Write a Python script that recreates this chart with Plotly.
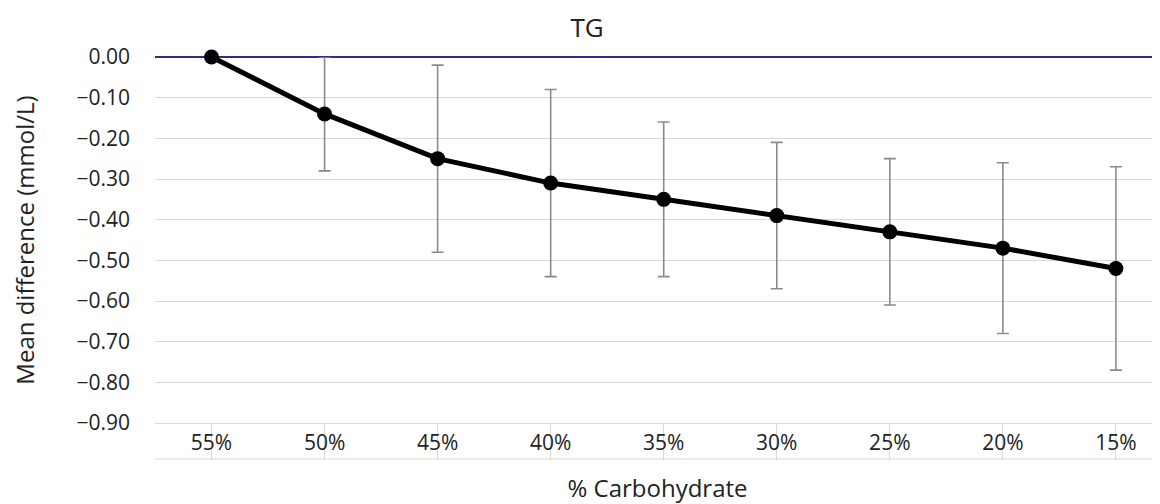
import plotly.graph_objects as go

categories = ["55%", "50%", "45%", "40%", "35%", "30%", "25%", "20%", "15%"]
mean_diff = [0.00, -0.14, -0.25, -0.31, -0.35, -0.39, -0.43, -0.47, -0.52]
upper_ci = [0.00, 0.00, -0.02, -0.08, -0.16, -0.21, -0.25, -0.26, -0.27]
lower_ci = [0.00, -0.28, -0.48, -0.54, -0.54, -0.57, -0.61, -0.68, -0.77]
y_ticks = [0.0, -0.1, -0.2, -0.3, -0.4, -0.5, -0.6, -0.7, -0.8, -0.9]

err_plus = [u - m for u, m in zip(upper_ci, mean_diff)]
err_minus = [m - l for m, l in zip(mean_diff, lower_ci)]
xidx = list(range(len(categories)))

FONT = "Open Sans"
TXT = "#222222"

# the page body adds an 8px offset, so the figure is 8px smaller on each side
W, H = 1152, 496

fig = go.Figure()
fig.add_trace(go.Scatter(
    x=xidx, y=mean_diff,
    mode="lines+markers",
    line=dict(color="black", width=5),
    marker=dict(color="black", size=15),
    error_y=dict(type="data", symmetric=False, array=err_plus, arrayminus=err_minus,
                 color="#8a8a8a", thickness=1.6, width=6),
    cliponaxis=False,
    showlegend=False,
))

# bottom border of the category table
fig.add_shape(type="line", xref="x", yref="y domain", x0=-0.5, x1=len(categories) - 0.5,
              y0=-36 / 366, y1=-36 / 366, line=dict(color="#d9d9d9", width=1))

fig.update_layout(
    width=W, height=H,
    margin=dict(l=147, r=0, t=49, b=81, autoexpand=False),
    paper_bgcolor="white", plot_bgcolor="white",
    font=dict(family=FONT, color=TXT, size=21),
    title=dict(text="TG", x=579 / W, xref="container", xanchor="center",
               y=1 - 20 / H, yref="container", yanchor="middle",
               font=dict(family=FONT, size=26, color=TXT)),
    xaxis=dict(
        tickmode="array", tickvals=xidx, ticktext=categories,
        range=[-0.5, 8.39], automargin=False,
        tickson="boundaries", ticks="outside", ticklen=36, tickcolor="#d9d9d9", tickwidth=1,
        ticklabelstandoff=-35,
        showline=True, linecolor="#d9d9d9", linewidth=1,
        showgrid=False, zeroline=False,
        tickfont=dict(family=FONT, size=21, color=TXT),
        title=dict(text="% Carbohydrate", standoff=30, font=dict(family=FONT, size=24, color=TXT)),
    ),
    yaxis=dict(
        range=[-0.9, 0.0], automargin=False,
        tickmode="array", tickvals=y_ticks, tickformat=".2f",
        showgrid=True, gridcolor="#d9d9d9", gridwidth=1,
        zeroline=True, zerolinecolor="#2e2e8a", zerolinewidth=1.5,
        showline=False, ticks="",
        ticklabelstandoff=24,
        tickfont=dict(family=FONT, size=21, color=TXT),
        title=dict(text="Mean difference (mmol/L)", standoff=36,
                   font=dict(family=FONT, size=24, color=TXT)),
    ),
)

fig.write_html("out.html")
